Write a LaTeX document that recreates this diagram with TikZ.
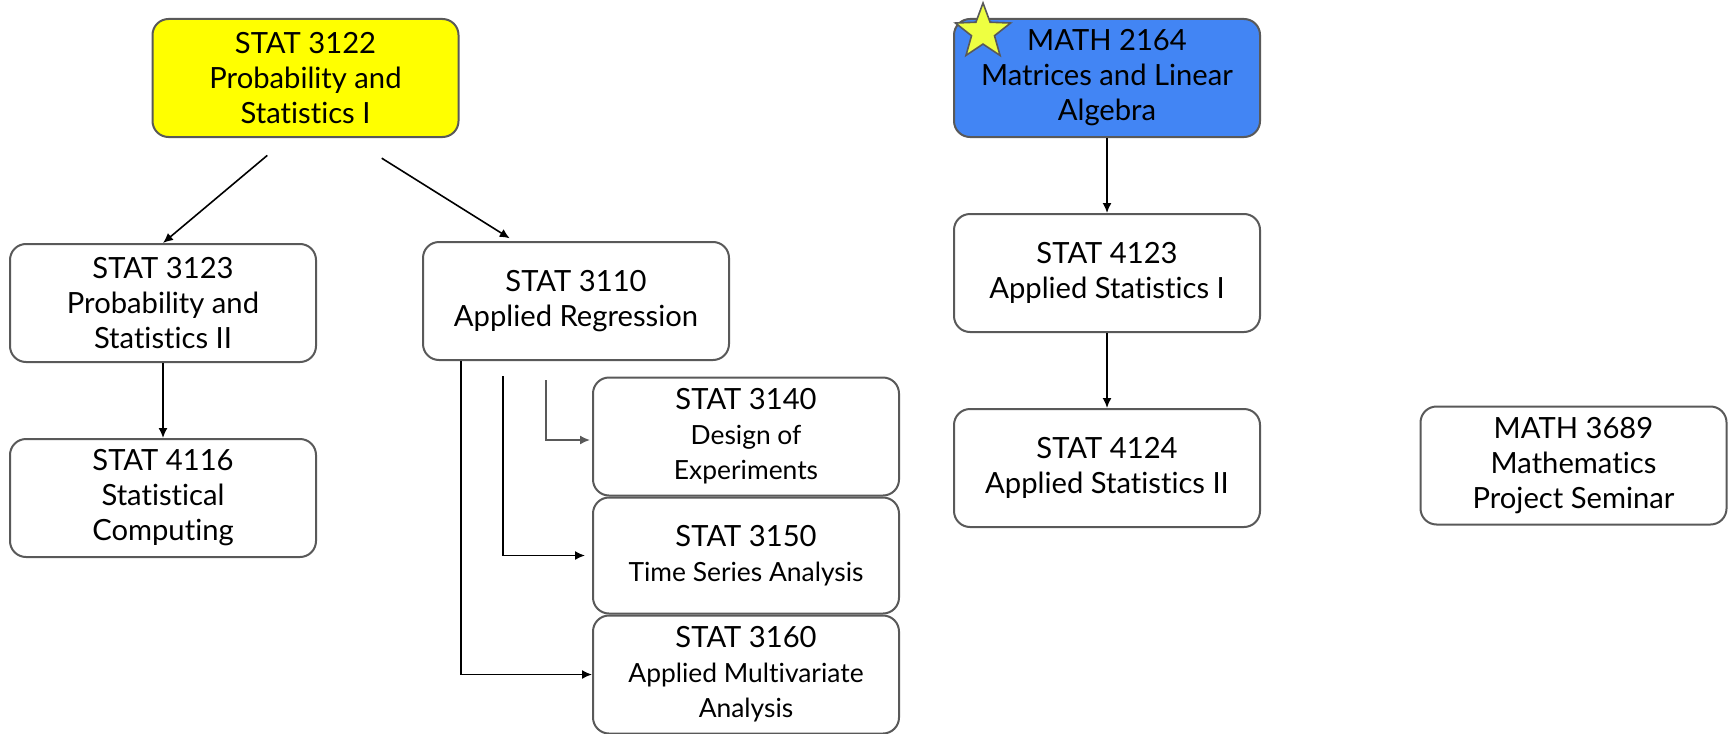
\documentclass[tikz,border=0pt]{standalone}
\usepackage{fontspec}
\setmainfont[Ligatures={NoCommon,NoContextual}]{Lato}
\usetikzlibrary{arrows.meta,positioning,shapes.geometric}
\definecolor{edgegray}{HTML}{595959}
\definecolor{hiyellow}{HTML}{FFFF00}
\definecolor{hiblue}{HTML}{4285F4}
\definecolor{starlime}{HTML}{EEFF41}
\newcommand{\subline}{\fontsize{13.2}{16}\selectfont}

\begin{document}
\begin{tikzpicture}[
  x=0.5pt,y=-0.5pt,
  node distance=37.5pt and 0pt,
  course/.style={draw=edgegray,line width=1pt,rounded corners=8pt,fill=white,align=center,
    minimum width=153pt,minimum height=59pt,inner sep=2pt,font=\fontsize{14.6}{17.5}\selectfont},
  core/.style={star,star points=5,star point ratio=2.4,minimum size=29pt,inner sep=0pt,
    draw=edgegray,line width=0.8pt,fill=starlime},
  arr/.style={-{Latex[length=5pt,width=4.5pt]},line width=0.8pt}
]
  \useasboundingbox (0,0) rectangle (1732,733);
  \node[course,fill=hiyellow] (prob1) at (305.5,78) {STAT 3122\\Probability and\\Statistics I};
  \node[course,fill=hiblue] (linalg) at (1107,78) {MATH 2164\\Matrices and Linear\\Algebra};
  \node[core] (corestar) at (983,32) {};
  \node[course] (prob2) at (163,303) {STAT 3123\\Probability and\\Statistics II};
  \node[course,below=of prob2] (comp) {STAT 4116\\Statistical\\Computing};
  \node[course] (reg) at (576,301) {STAT 3110\\Applied Regression};
  \node[course] (doe) at (746,436.5) {STAT 3140\\\subline Design of\\\subline Experiments};
  \node[course,below=0pt of doe,minimum height=58pt] (ts) {STAT 3150\\\subline Time Series Analysis};
  \node[course,below=0pt of ts] (mv) {STAT 3160\\\subline Applied Multivariate\\\subline Analysis};
  \node[course,below=of linalg] (appl1) {STAT 4123\\Applied Statistics I};
  \node[course,below=of appl1] (appl2) {STAT 4124\\Applied Statistics II};
  \node[course] (sem) at (1573.5,465.5) {MATH 3689\\Mathematics\\Project Seminar};
  \draw[arr,shorten <=13.5pt] ([xshift=-8.75pt]prob1.south) -- (prob2.north);
  \draw[arr,shorten <=19pt,shorten >=2.5pt] ([xshift=22pt]prob1.south) -- ([xshift=-31pt]reg.north);
  \draw[arr] (prob2) -- (comp);
  \draw[arr] (linalg) -- (appl1);
  \draw[arr] (appl1) -- (appl2);
  \draw[arr,edgegray,shorten <=9.5pt,shorten >=1pt] ([xshift=62pt]reg.south west) |- ([yshift=-1.75pt]doe.west);
  \draw[arr,shorten <=7.5pt,shorten >=3.5pt] ([xshift=40.5pt]reg.south west) |- (ts.west);
  \draw[arr] ([xshift=19.5pt]reg.south west) |- (mv.west);
\end{tikzpicture}
\end{document}
